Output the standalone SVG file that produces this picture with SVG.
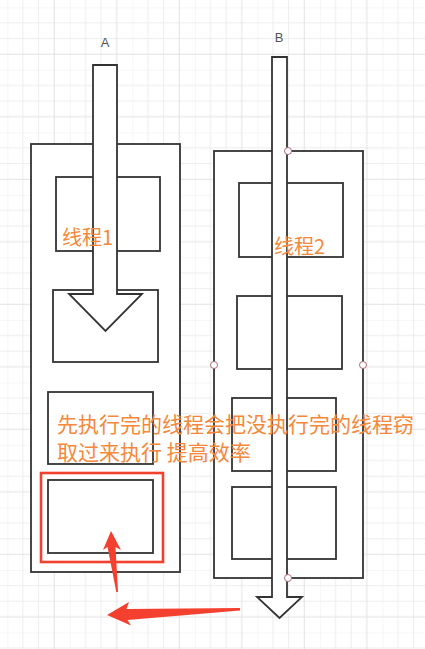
<svg xmlns="http://www.w3.org/2000/svg" width="425" height="649" viewBox="0 0 425 649">
<defs>
<pattern id="grid" x="7.3" y="7.3" width="62.52" height="62.52" patternUnits="userSpaceOnUse">
<path d="M0,0V62.52M15.63,0V62.52M31.26,0V62.52M0,0H62.52M0,15.63H62.52M0,31.26H62.52" stroke="#ededed" stroke-width="1" fill="none"/>
<path d="M46.89,0V62.52M0,46.89H62.52" stroke="#e2e2e2" stroke-width="1" fill="none"/>
</pattern>
<style>
.box{fill:#ffffff;stroke:#333333;stroke-width:1.8}
.inner{fill:none;stroke:#333333;stroke-width:1.8}
.arrow{fill:#ffffff;stroke:#333333;stroke-width:1.8;stroke-linejoin:miter}
.lbl{font-family:"Liberation Sans","Noto Sans",sans-serif;font-size:13px;fill:#555555;text-anchor:middle}
.note{font-family:"Noto Sans CJK SC","Noto Sans",sans-serif;fill:#f5883b}
.pt{fill:#ffffff;stroke:#b06a74;stroke-width:1}
.red{fill:#f4412f}
</style>
</defs>
<rect width="425" height="649" fill="#ffffff"/>
<rect width="425" height="649" fill="url(#grid)"/>

<g id="label-A"><text class="lbl" x="105" y="46.5">A</text></g>
<g id="label-B"><text class="lbl" x="279" y="41.5">B</text></g>

<g id="box-A">
<rect class="box" x="31" y="144" width="149" height="428"/>
<rect class="inner" x="56" y="177" width="104" height="74"/>
<rect class="inner" x="53" y="290" width="105" height="72"/>
<rect class="inner" x="48" y="392" width="105" height="72"/>
<rect class="inner" x="48" y="480" width="105" height="73"/>
</g>

<g id="box-B">
<rect class="box" x="214" y="151" width="149" height="427"/>
<rect class="inner" x="239" y="183" width="104" height="74"/>
<rect class="inner" x="237" y="296" width="105" height="73"/>
<rect class="inner" x="232" y="398" width="104" height="73"/>
<rect class="inner" x="232" y="487" width="104" height="72"/>
</g>

<g id="highlight">
<rect x="41" y="473" width="122" height="89" fill="none" stroke="#f4412f" stroke-width="2.6"/>
</g>

<g id="connectors">
<polygon id="thread-arrow-A" class="arrow" points="93,65 117,65 117,294 142,294 105.5,331 69,294 93,294"/>
<polygon id="thread-arrow-B" class="arrow" points="272,57 287,57 287,597 302,597 279.5,618 257,597 272,597"/>
<path id="steal-arrow-up" class="red" d="M111,531 L121,550 L115.5,547 L118,592 L116.3,592 L107.5,547 L103,550 Z"/>
<path id="steal-arrow-left" class="red" d="M107,615 L129,602 L126.5,609 L240,608 L240,610.5 L127.5,620 L131,625.5 Z"/>
</g>

<g id="points">
<circle class="pt" cx="288" cy="151" r="3.5"/>
<circle class="pt" cx="214" cy="365" r="3.5"/>
<circle class="pt" cx="363" cy="365" r="3.5"/>
<circle class="pt" cx="288" cy="578" r="3.5"/>
</g>

<g id="text-thread1"><text class="note" x="62" y="245" font-size="20">线程1</text></g>
<g id="text-thread2"><text class="note" x="274" y="254" font-size="20">线程2</text></g>
<g id="text-note">
<text class="note" x="57" y="432" font-size="21">先执行完的线程会把没执行完的线程窃</text>
<text class="note" x="57" y="460" font-size="21">取过来执行 提高效率</text>
</g>
</svg>
